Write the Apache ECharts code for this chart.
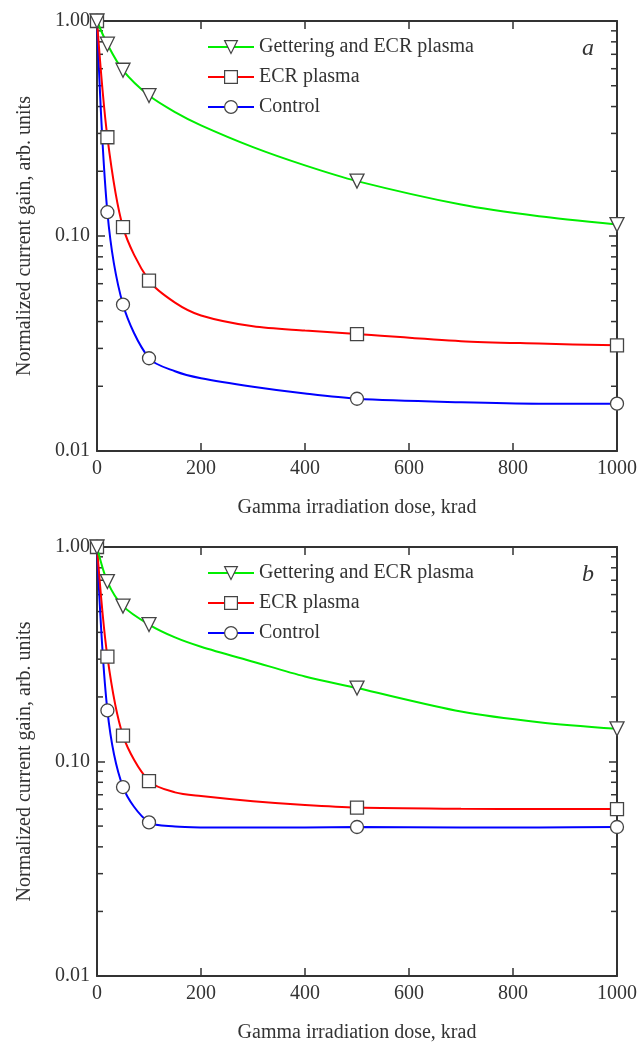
<!DOCTYPE html>
<html>
<head>
<meta charset="utf-8">
<script src="https://cdn.jsdelivr.net/npm/echarts@6/dist/echarts.min.js"></script>
<style>html,body{margin:0;padding:0;background:#fff;}#c{width:642px;height:1044px;}</style>
</head>
<body>
<div id="c"></div>
<script>
// measured points (with markers)
const dose = [0, 20, 50, 100, 500, 1000];
const seriesNames = ['Gettering and ECR plasma', 'ECR plasma', 'Control'];
const aGettering = [1.0, 0.78, 0.59, 0.45, 0.18, 0.113];
const aEcr = [1.0, 0.288, 0.11, 0.062, 0.035, 0.031];
const aControl = [1.0, 0.129, 0.048, 0.027, 0.0175, 0.0166];
const bGettering = [1.0, 0.69, 0.53, 0.435, 0.22, 0.142];
const bEcr = [1.0, 0.308, 0.132, 0.081, 0.061, 0.060];
const bControl = [1.0, 0.173, 0.076, 0.052, 0.0495, 0.0495];
// positions of the drawn fit curves between markers
const curveDose = [150, 200, 300, 400, 700, 850];
const aGetteringCurve = [0.377, 0.327, 0.259, 0.213, 0.140, 0.1235];
const aEcrCurve = [0.049, 0.0427, 0.038, 0.0363, 0.0324, 0.0316];
const aControlCurve = [0.0235, 0.0218, 0.0199, 0.0185, 0.01685, 0.0166];
const bGetteringCurve = [0.379, 0.343, 0.292, 0.249, 0.171, 0.1525];
const bEcrCurve = [0.0718, 0.069, 0.0653, 0.0627, 0.0602, 0.0600];
const bControlCurve = [0.0498, 0.0493, 0.0492, 0.0493, 0.0492, 0.0493];
const xTicks = [0, 200, 400, 600, 800, 1000];
const yMinorTicks = [0.02,0.03,0.04,0.05,0.06,0.07,0.08,0.09,0.2,0.3,0.4,0.5,0.6,0.7,0.8,0.9];
const panelLabels = ['a', 'b'];

const FONT = 'Liberation Serif';
const TXT = '#333';
const AX = '#333';
const colors = ['#00ee00', '#ff0000', '#0000ff'];
const symbols = ['triangle', 'rect', 'circle'];
const symRot = [180, 0, 0];
const symSize = [14, 13, 13];

const grids = [
  {left: 97, top: 21, width: 520, height: 430},
  {left: 97, top: 547, width: 520, height: 430}
];

const xAxes = [], yAxes = [], series = [], legends = [], graphics = [];
const panelData = [[aGettering, aEcr, aControl], [bGettering, bEcr, bControl]];
const panelCurves = [[aGetteringCurve, aEcrCurve, aControlCurve], [bGetteringCurve, bEcrCurve, bControlCurve]];

grids.forEach((g, gi) => {
  xAxes.push({
    type: 'value', gridIndex: gi, min: 0, max: 1000, interval: 200, position: 'bottom',
    name: 'Gamma irradiation dose, krad', nameLocation: 'middle', nameGap: 47,
    nameTextStyle: {fontFamily: FONT, fontSize: 20, color: TXT},
    axisLine: {show: true, onZero: false, lineStyle: {color: AX, width: 2}},
    axisTick: {show: true, inside: true, length: 8, lineStyle: {color: AX, width: 1.5}},
    axisLabel: {fontFamily: FONT, fontSize: 20, color: TXT, margin: 8, formatter: v => String(v)},
    splitLine: {show: false}
  });
  xAxes.push({
    type: 'value', gridIndex: gi, min: 0, max: 1000, interval: 200, position: 'top',
    axisLine: {show: true, onZero: false, lineStyle: {color: AX, width: 2}},
    axisTick: {show: true, inside: true, length: 8, lineStyle: {color: AX, width: 1.5}},
    axisLabel: {show: false}, splitLine: {show: false}
  });
  yAxes.push({
    type: 'log', logBase: 10, gridIndex: gi, min: 0.01, max: 1, position: 'left',
    name: 'Normalized current gain, arb. units', nameLocation: 'middle', nameGap: 62, nameRotate: 90,
    nameTextStyle: {fontFamily: FONT, fontSize: 20, color: TXT},
    axisLine: {show: true, onZero: false, lineStyle: {color: AX, width: 2}},
    axisTick: {show: true, inside: true, length: 8, lineStyle: {color: AX, width: 1.5}},
    axisLabel: {fontFamily: FONT, fontSize: 20, color: TXT, margin: 7, formatter: v => Number(v).toFixed(2)},
    splitLine: {show: false}
  });
  yAxes.push({
    type: 'log', logBase: 10, gridIndex: gi, min: 0.01, max: 1, position: 'right',
    axisLine: {show: true, onZero: false, lineStyle: {color: AX, width: 2}},
    axisTick: {show: true, inside: true, length: 8, lineStyle: {color: AX, width: 1.5}},
    axisLabel: {show: false}, splitLine: {show: false}
  });
  const xi = gi * 2, yi = gi * 2;
  panelData[gi].forEach((vals, si) => {
    const pts = dose.map((d, k) => ({value: [d, vals[k]]}))
      .concat(curveDose.map((d, k) => ({value: [d, panelCurves[gi][si][k]], symbol: 'none'})))
      .sort((p, q) => p.value[0] - q.value[0]);
    series.push({
      type: 'line', name: seriesNames[si], xAxisIndex: xi, yAxisIndex: yi,
      data: pts,
      smooth: 0.3, clip: false,
      symbol: symbols[si], symbolSize: symSize[si], symbolRotate: symRot[si], showAllSymbol: true,
      lineStyle: {color: colors[si], width: 2},
      itemStyle: {color: '#fff', borderColor: '#444', borderWidth: 1.3},
      emphasis: {disabled: true}, z: 5 - si
    });
  });
  series.push({
    type: 'custom', xAxisIndex: xi, yAxisIndex: yi, silent: true, clip: false,
    data: yMinorTicks.map(v => [0, v]),
    renderItem: (params, api) => {
      const v = api.value(1);
      const l = api.coord([0, v]);
      const r = api.coord([1000, v]);
      const st = {stroke: AX, lineWidth: 1.5};
      return {type: 'group', children: [
        {type: 'line', shape: {x1: l[0], y1: l[1], x2: l[0] + 6, y2: l[1]}, style: st},
        {type: 'line', shape: {x1: r[0] - 6, y1: r[1], x2: r[0], y2: r[1]}, style: st}
      ]};
    }
  });
  legends.push({
    orient: 'vertical', left: 202, top: g.top + 11, itemGap: 10, itemWidth: 46, itemHeight: 16,
    data: seriesNames, selectedMode: false,
    itemStyle: {color: '#fff', borderColor: '#444', borderWidth: 1.2},
    textStyle: {fontFamily: FONT, fontSize: 20, color: TXT, lineHeight: 20, padding: [0, 0, 0, 0]}
  });
  graphics.push({
    type: 'text', left: 582, top: g.top + 16,
    style: {text: panelLabels[gi], fontFamily: FONT, fontSize: 24, fontStyle: 'italic', fill: TXT}
  });
});

const chart = echarts.init(document.getElementById('c'), null, {renderer: 'canvas'});
chart.setOption({
  backgroundColor: '#fff',
  animation: false,
  grid: grids,
  xAxis: xAxes,
  yAxis: yAxes,
  legend: legends,
  series: series,
  graphic: graphics
});
</script>
</body>
</html>
